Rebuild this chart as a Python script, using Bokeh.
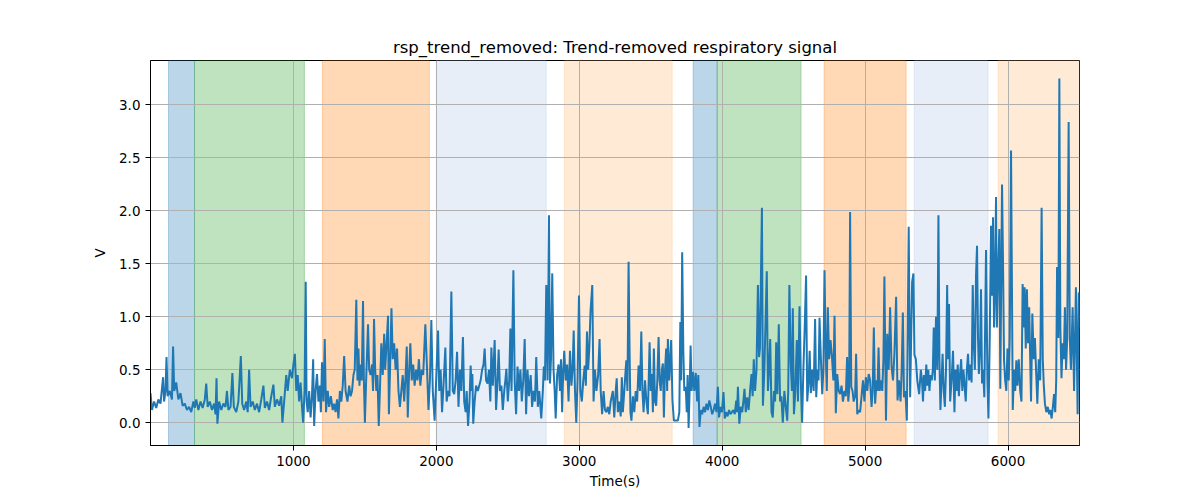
from bokeh.plotting import figure
from bokeh.models import Range1d, FixedTicker, PrintfTickFormatter, BoxAnnotation
from bokeh.embed import file_html
from bokeh.resources import INLINE

# ---- data ----
span_starts = [126, 308, 1203, 2000, 2895, 3797, 3965, 4713, 5343, 5930]
span_ends = [308, 1077, 1951, 2769, 3650, 3965, 4552, 5287, 5860, 6500]
span_colors = ["#1f77b4", "#2ca02c", "#ff7f0e", "#aec7e8", "#ffbb78",
               "#1f77b4", "#2ca02c", "#ff7f0e", "#aec7e8", "#ffbb78"]

pairs = """
0 0.28; 10 0.12; 25 0.2; 40 0.14; 55 0.22; 70 0.18; 88 0.43; 95 0.2; 105 0.3; 112 0.62; 120 0.25; 135 0.3; 150 0.22; 158 0.72; 166 0.3; 180 0.38; 195 0.22; 210 0.28; 225 0.16; 240 0.18; 255 0.12; 270 0.15; 285 0.1; 300 0.2; 310 0.14;
320 0.22; 335 0.12; 350 0.2; 365 0.14; 380 0.22; 390 0.37; 400 0.15; 415 0.2; 430 0.12; 445 0.18; 455 0.08; 462 0.42; 468 -0.01; 480 0.2; 495 0.12; 510 0.18; 525 0.15; 535 0.3; 545 0.12; 560 0.15; 573 0.47; 583 0.15; 600 0.1; 615 0.2; 632 0.63; 642 0.18; 655 0.12; 670 0.2; 680 0.1; 690 0.5; 700 0.15; 715 0.2; 730 0.12; 745 0.18; 760 0.1; 775 0.22; 790 0.35; 800 0.14; 815 0.2; 830 0.12; 845 0.25; 860 0.36; 870 0.15; 885 0.22; 900 0.16; 915 0.25; 923 0.0; 935 0.2; 950 0.45; 960 0.3; 975 0.5; 990 0.42; 1000 0.55; 1010 0.65; 1020 0.3; 1030 0.45; 1040 0.2; 1050 0.38; 1060 0.15; 1068 0.0; 1078 0.3; 1086 1.33; 1092 0.2;
1100 0.1; 1110 0.3; 1120 0.05; 1130 0.25; 1138 0.6; 1145 -0.03; 1155 0.3; 1165 0.46; 1175 0.2; 1185 0.35; 1192 0.1; 1200 0.57; 1210 0.2; 1219 0.79; 1228 0.1; 1240 0.3; 1250 0.15; 1262 0.25; 1275 0.12; 1285 0.18; 1295 0.1; 1305 0.22; 1315 0.04; 1325 0.3; 1335 0.2; 1345 0.35; 1355 0.63; 1365 0.3; 1378 0.2; 1390 0.35; 1400 0.25; 1410 0.3; 1420 0.45; 1429 0.5; 1440 1.16; 1448 0.4; 1455 0.7; 1462 0.35; 1470 0.55; 1478 0.4; 1487 1.15; 1493 0.4; 1500 0.0; 1510 0.45; 1522 0.93; 1530 0.5; 1540 0.45; 1550 0.55; 1557 0.3; 1564 0.98; 1572 0.5; 1580 0.3; 1588 0.45; 1597 -0.03; 1605 0.3; 1615 0.75; 1625 0.45; 1635 0.84; 1642 0.5; 1650 0.7; 1662 1.01; 1668 0.08; 1676 0.5; 1686 1.08; 1695 0.6; 1705 0.75; 1715 0.5; 1725 0.7; 1735 0.3; 1745 0.15; 1755 0.3; 1765 0.45; 1775 0.2; 1785 0.45; 1793 0.72; 1800 0.05; 1810 0.5; 1818 0.75; 1828 0.4; 1838 0.55; 1848 0.35; 1858 0.5; 1868 0.4; 1878 0.6; 1888 0.35; 1898 0.5; 1908 0.45; 1923 0.93; 1935 0.5; 1945 0.12; 1955 0.4; 1965 0.97; 1975 0.3; 1988 0.02; 2000 0.45; 2012 0.87; 2020 0.3; 2030 0.5; 2040 0.1; 2050 0.35; 2063 0.71; 2072 0.2; 2082 0.3; 2092 0.25; 2105 1.24; 2115 0.3; 2125 0.27; 2135 0.4; 2145 0.67;
2155 0.15; 2165 0.5; 2175 0.3; 2186 0.81; 2195 0.2; 2205 0.1; 2212 0.3; 2222 -0.03; 2232 0.2; 2240 0.54; 2248 0.3; 2252 0.46; 2258 -0.01; 2268 0.2; 2278 0.35; 2290 0.3; 2300 0.35; 2310 0.4; 2320 0.5; 2330 0.55; 2338 0.7; 2348 0.4; 2358 0.37; 2368 0.5; 2378 0.2; 2385 0.71; 2395 0.35; 2408 0.78; 2418 0.12; 2428 0.4; 2436 0.69; 2445 0.3; 2455 0.35; 2465 0.12; 2475 0.3; 2483 0.4; 2490 0.51; 2500 0.2; 2510 0.4; 2518 0.89; 2526 0.3; 2539 1.44; 2548 0.4; 2558 0.08; 2568 0.53; 2578 0.3; 2588 0.5; 2598 0.2; 2608 0.4; 2618 0.79; 2628 0.08; 2638 0.5; 2648 0.25; 2660 0.45; 2670 0.15; 2680 0.3; 2690 0.2; 2699 0.62; 2710 0.15; 2720 0.3; 2734 0.04; 2745 0.3; 2752 0.53; 2760 0.4; 2769 1.3; 2778 0.4; 2788 1.96; 2795 0.37; 2802 0.6; 2811 1.41; 2820 0.5; 2828 0.3; 2835 0.04; 2845 0.45; 2855 0.55; 2865 0.3; 2872 0.6; 2880 0.1; 2888 0.5; 2895 0.68; 2905 0.4; 2915 0.55; 2925 0.2; 2935 0.68; 2945 0.35; 2953 0.5; 2961 0.87; 2970 0.3; 2979 0.0; 2988 0.4; 2998 1.2; 3008 0.3; 3018 0.2; 3028 0.4; 3038 0.54; 3046 0.35; 3054 0.86; 3062 0.5; 3070 0.7; 3079 1.06; 3091 1.3; 3100 0.2; 3110 0.5; 3120 0.3; 3132 0.45; 3142 0.79; 3150 0.3; 3160 0.08; 3170 0.3; 3180 0.12; 3190 0.1; 3200 0.15; 3210 0.08; 3220 0.2; 3235 0.3;
3245 0.05; 3255 0.3; 3262 0.42; 3270 0.1; 3280 0.2; 3290 0.06; 3298 0.43; 3305 0.1; 3315 0.3; 3322 0.45; 3329 0.59; 3337 0.3; 3345 1.52; 3352 0.68; 3358 0.1; 3365 0.02; 3375 0.25; 3385 0.1; 3395 0.3; 3405 0.2; 3415 0.54; 3425 0.3; 3434 0.86; 3442 0.3; 3450 0.1; 3460 0.4; 3470 0.2; 3480 0.08; 3492 0.76; 3500 0.3; 3508 0.46; 3515 0.1; 3522 0.7; 3530 0.2; 3538 0.16; 3546 0.4; 3555 0.81; 3562 0.4; 3570 0.3; 3578 0.5; 3585 0.56; 3592 0.05; 3600 0.5; 3608 0.7; 3615 0.3; 3620 0.79; 3630 0.4; 3643 0.78; 3652 0.21; 3662 0.02; 3675 0.02; 3690 0.02; 3700 0.1; 3707 0.95; 3713 0.4; 3720 1.61; 3728 0.68; 3735 0.3; 3745 0.34; 3752 0.1; 3758 0.45; 3765 -0.05; 3772 0.3; 3779 0.73; 3786 0.3; 3795 0.48; 3805 0.3; 3815 0.47; 3825 0.2; 3833 0.45; 3841 -0.04; 3850 0.12; 3860 0.08; 3870 0.15; 3880 0.1; 3890 0.18; 3900 0.12; 3910 0.21; 3920 0.15; 3930 0.08; 3940 0.12; 3950 0.18; 3960 0.1; 3970 0.34; 3978 0.05; 3988 0.15; 3998 0.1; 4009 0.29; 4018 0.04; 4028 0.1; 4038 0.06; 4048 0.12; 4058 0.08; 4068 0.1; 4078 0.12; 4088 0.08; 4098 0.21; 4104 0.1; 4110 0.34; 4120 -0.01; 4130 0.15; 4140 0.1; 4148 0.2; 4156 0.32; 4165 0.1; 4175 0.24; 4185 0.12; 4195 0.3; 4205 0.46; 4213 0.25; 4221 0.6; 4230 0.3; 4240 0.5; 4250 1.3; 4258 0.62; 4264 0.7; 4278 2.03; 4285 0.16; 4295 0.5; 4312 1.43; 4320 0.3;
4328 0.5; 4336 0.79; 4345 0.1; 4354 0.05; 4362 0.3; 4370 0.2; 4378 0.76; 4386 0.27; 4396 0.93; 4405 0.2; 4414 0.25; 4424 0.0; 4435 0.3; 4445 0.15; 4455 0.02; 4462 0.3; 4470 1.3; 4480 0.55; 4488 0.3; 4494 1.08; 4502 0.08; 4512 0.3; 4522 0.78; 4530 0.2; 4541 1.1; 4550 0.4; 4559 0.0; 4568 0.5; 4578 0.93; 4587 1.39; 4595 0.2; 4605 0.4; 4612 0.68; 4620 0.28; 4630 0.5; 4640 0.3; 4650 0.98; 4658 0.24; 4666 0.5; 4674 0.4; 4681 0.99; 4690 0.62; 4700 0.27; 4708 0.5; 4716 1.44; 4725 0.62; 4732 0.3; 4739 1.09; 4748 0.6; 4758 0.78; 4768 0.62; 4778 0.4; 4786 1.01; 4795 0.09; 4805 0.46; 4815 0.3; 4825 0.27; 4835 0.35; 4845 0.2; 4855 0.3; 4865 0.25; 4874 0.62; 4882 0.2; 4888 0.3; 4895 1.99; 4903 0.34; 4912 0.3; 4920 0.2; 4930 0.25; 4937 0.65; 4945 0.08; 4955 0.12; 4965 0.1; 4975 0.25; 4985 0.4; 4995 0.2; 5005 0.43; 5015 0.3; 5025 0.46; 5035 0.4; 5045 0.15; 5053 0.3; 5061 0.9; 5070 0.18; 5080 0.4; 5087 0.3; 5094 0.71; 5102 0.3; 5110 0.4; 5120 0.3; 5128 0.6; 5135 1.38; 5146 0.02; 5155 0.84; 5165 0.5; 5175 1.09; 5185 0.53; 5195 0.4; 5205 0.65; 5217 1.19; 5227 0.21; 5237 0.4; 5248 0.2; 5256 0.5; 5264 1.04; 5272 0.24; 5282 0.3; 5292 0.02; 5305 1.85; 5315 0.24; 5329 1.33; 5338 1.41; 5345 0.64; 5355 0.6; 5365 0.4; 5378 0.27; 5390 0.5;
5398 0.4; 5405 0.2; 5412 0.45; 5420 0.3; 5428 0.55; 5435 0.35; 5442 0.5; 5450 0.3; 5458 0.45; 5466 0.4; 5474 0.5; 5480 0.9; 5488 0.4; 5496 1.0; 5505 0.5; 5513 1.96; 5520 0.6; 5527 0.12; 5535 0.4; 5542 0.65; 5550 0.3; 5558 0.15; 5566 0.5; 5574 1.3; 5580 0.6; 5587 1.12; 5595 0.2; 5605 0.4; 5615 0.68; 5625 0.1; 5632 0.5; 5640 0.3; 5648 0.55; 5656 0.25; 5664 0.45; 5672 0.6; 5680 0.3; 5688 0.5; 5696 0.35; 5704 0.2; 5712 0.5; 5720 0.65; 5728 0.4; 5736 0.55; 5745 0.38; 5753 1.3; 5760 0.75; 5768 0.5; 5776 1.39; 5783 1.67; 5790 0.8; 5796 0.46; 5804 0.7; 5811 1.26; 5818 0.37; 5826 0.5; 5834 0.24; 5846 1.63; 5856 0.4; 5863 0.04; 5872 0.8; 5881 1.86; 5888 1.2; 5895 1.94; 5902 0.9; 5908 1.2; 5916 2.13; 5922 0.9; 5930 1.4; 5939 1.83; 5946 0.32; 5958 2.25; 5965 1.5; 5972 0.59; 5980 0.4; 5988 0.3; 5996 0.7; 6005 0.4; 6012 0.8; 6021 2.57; 6033 0.12; 6042 0.5; 6050 0.3; 6058 0.59; 6066 0.35; 6075 0.6; 6085 0.3; 6094 0.2; 6102 1.31; 6110 0.9; 6116 1.28; 6124 0.7; 6132 1.26; 6140 0.75; 6148 1.09; 6155 0.6; 6161 0.2; 6170 1.03; 6180 0.6; 6188 0.8; 6196 0.5; 6205 0.18; 6215 0.6; 6225 0.4; 6235 2.03; 6243 0.6; 6250 0.36; 6258 0.18; 6268 0.1; 6278 0.15; 6288 0.08; 6296 0.12; 6305 0.04; 6313 0.14; 6322 0.27; 6330 0.1; 6337 0.4; 6343 1.47; 6352 0.8; 6359 3.25; 6366 0.9; 6374 0.42; 6382 0.75; 6390 0.6; 6398 1.09; 6406 0.5; 6414 0.8; 6424 2.84; 6432 0.8; 6440 0.5; 6452 1.09; 6462 0.3; 6475 1.28; 6487 0.08; 6495 1.23; 6500 0.9
"""
time_s = []
signal_v = []
for item in pairs.replace("\n", " ").split(";"):
    item = item.strip()
    if not item:
        continue
    t, v = item.split()
    time_s.append(float(t))
    signal_v.append(float(v))

x_ticks = [1000, 2000, 3000, 4000, 5000, 6000]
y_ticks = [0.0, 0.5, 1.0, 1.5, 2.0, 2.5, 3.0]

FONT = "DejaVu Sans"

p = figure(
    output_backend="svg", toolbar_location=None,
    frame_width=929, frame_height=385,
    min_border_left=150, min_border_right=105, min_border_top=60, min_border_bottom=45,
    x_range=Range1d(0, 6500), y_range=Range1d(-0.215, 3.42),
    title="rsp_trend_removed: Trend-removed respiratory signal",
)
p.title.align = "center"
p.title.text_font = FONT
p.title.text_font_size = "16.5px"
p.title.text_font_style = "normal"
p.title.text_color = "black"
p.title.offset = 0
p.title.standoff = 8

for s, e, c in zip(span_starts, span_ends, span_colors):
    box = BoxAnnotation(left=s, right=e, fill_color=c, fill_alpha=0.3,
                        line_color=c, line_alpha=0.3, line_width=1, level="image")
    p.add_layout(box)

p.line(time_s, signal_v, line_color="#1f77b4", line_width=2)

for ax in (p.xaxis[0], p.yaxis[0]):
    ax.axis_line_color = "black"
    ax.major_tick_line_color = "black"
    ax.major_tick_out = 5
    ax.major_tick_in = 0
    ax.minor_tick_line_color = None
    ax.major_label_text_font = FONT
    ax.major_label_text_font_size = "13.5px"
    ax.major_label_text_color = "black"
    ax.axis_label_text_font = FONT
    ax.axis_label_text_font_size = "13.5px"
    ax.axis_label_text_font_style = "normal"
    ax.axis_label_text_color = "black"

p.xaxis.ticker = FixedTicker(ticks=x_ticks)
p.yaxis.ticker = FixedTicker(ticks=y_ticks)
p.xaxis.formatter = PrintfTickFormatter(format="%d")
p.yaxis.formatter = PrintfTickFormatter(format="%.1f")
p.xaxis.axis_label = "Time(s)"
p.yaxis.axis_label = "V"
p.xaxis.axis_label_standoff = 4
p.yaxis.axis_label_standoff = 8

p.xgrid.grid_line_color = "#b0b0b0"
p.ygrid.grid_line_color = "#b0b0b0"
p.xgrid.grid_line_width = 1
p.ygrid.grid_line_width = 1

p.outline_line_color = "black"
p.outline_line_width = 1
p.outline_line_alpha = 1
p.background_fill_color = "white"
p.border_fill_color = "white"

open("out.html", "w").write(file_html(p, INLINE))
